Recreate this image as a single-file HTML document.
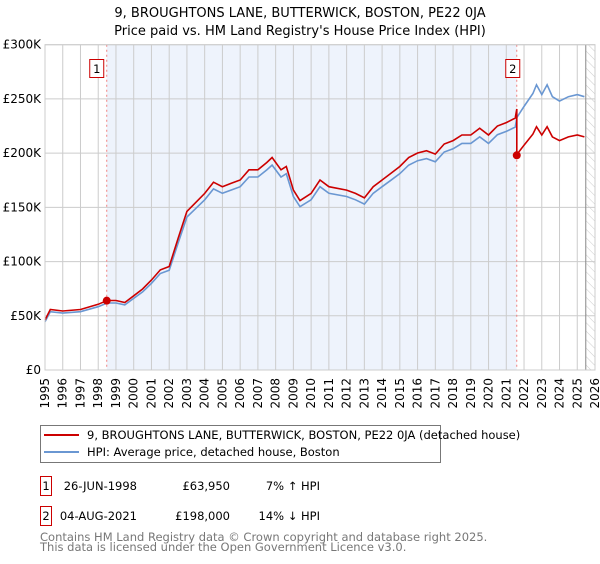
<!DOCTYPE html>
<html><head><meta charset="utf-8"><style>
body{margin:0;background:#fff;font-family:"DejaVu Sans","Liberation Sans",sans-serif;}
svg text{font-family:"DejaVu Sans","Liberation Sans",sans-serif;}
</style></head><body>
<svg id="chart" width="600" height="560" viewBox="0 0 600 560">
<defs><pattern id="hatch" width="6" height="6" patternUnits="userSpaceOnUse" patternTransform="rotate(-45)"><line x1="0" y1="0" x2="0" y2="6" stroke="#ccc" stroke-width="1"/></pattern></defs>
<text x="300" y="17" text-anchor="middle" font-size="13" fill="#000">9, BROUGHTONS LANE, BUTTERWICK, BOSTON, PE22 0JA</text>
<text x="300" y="35" text-anchor="middle" font-size="13" fill="#000">Price paid vs. HM Land Registry's House Price Index (HPI)</text>
<g id="plot"></g>
<g>
<rect x="40.5" y="425.5" width="400" height="37" fill="#fff" stroke="#777"/>
<line x1="44" y1="435" x2="79" y2="435" stroke="#cc0000" stroke-width="2"/>
<text x="87" y="439" font-size="11.5" fill="#000">9, BROUGHTONS LANE, BUTTERWICK, BOSTON, PE22 0JA (detached house)</text>
<line x1="44" y1="452" x2="79" y2="452" stroke="#6a97d2" stroke-width="2"/>
<text x="87" y="456" font-size="11.5" fill="#000">HPI: Average price, detached house, Boston</text>
</g>
<g font-size="11.5">
<rect x="40.5" y="476.5" width="11" height="19" fill="#fff" stroke="#cc0000"/>
<text x="46" y="490" text-anchor="middle">1</text>
<text x="137" y="490" text-anchor="end">26-JUN-1998</text>
<text x="230" y="490" text-anchor="end">£63,950</text>
<text x="320" y="490" text-anchor="end">7% ↑ HPI</text>
<rect x="40.5" y="506.5" width="11" height="19" fill="#fff" stroke="#cc0000"/>
<text x="46" y="520" text-anchor="middle">2</text>
<text x="137" y="520" text-anchor="end">04-AUG-2021</text>
<text x="230" y="520" text-anchor="end">£198,000</text>
<text x="320" y="520" text-anchor="end">14% ↓ HPI</text>
</g>
<text x="40" y="541" font-size="11.5" fill="#777">Contains HM Land Registry data © Crown copyright and database right 2025.</text>
<text x="40" y="551" font-size="11.5" fill="#777">This data is licensed under the Open Government Licence v3.0.</text>
</svg>
<script>
const hpiYears = [1995.0,1995.3,1996,1997,1998,1998.5,1999,1999.5,2000,2000.5,2001,2001.5,2002,2002.5,2003,2003.5,2004,2004.5,2005,2005.5,2006,2006.5,2007,2007.5,2007.8,2008.3,2008.6,2009,2009.37,2010,2010.5,2011,2012,2012.5,2013,2013.5,2014,2014.5,2015,2015.5,2016,2016.5,2017,2017.5,2018,2018.5,2019,2019.5,2020,2020.5,2021,2021.5,2021.6,2022,2022.5,2022.7,2023,2023.3,2023.6,2024,2024.5,2025,2025.4];
const hpiValues = [44.5,53.8,52.5,53.8,58.4,61.8,61.8,60,66,72,80,89,92,117,141,149,157,167,163,166,169,178,178,184.5,189,178,181,160,150.6,157,169,163,160,157,153,163,169,175,181,189,193,195,192,201,204,209,209,215,209,217,220,224,233,243,255,263,254,263,252,248,252,254,252];
const saleYears = [1998.48,2021.59];
const salePrices = [63.95,198];
const saleLabels = ["1","2"];
const yTicks = [0,50,100,150,200,250,300];
const yTickLabels = ["£0","£50K","£100K","£150K","£200K","£250K","£300K"];
const xYears = [1995,1996,1997,1998,1999,2000,2001,2002,2003,2004,2005,2006,2007,2008,2009,2010,2011,2012,2013,2014,2015,2016,2017,2018,2019,2020,2021,2022,2023,2024,2025,2026];

const L=45,R=595,T=44.7,B=370,X0=1995,X1=2026,YMAX=300;
const xs=y=>L+(y-X0)/(X1-X0)*(R-L);
const ys=v=>B-v/YMAX*(B-T);
const NS="http://www.w3.org/2000/svg";
const g=document.getElementById('plot');
function mk(tag,attrs,parent){const e=document.createElementNS(NS,tag);for(const k in attrs)e.setAttribute(k,attrs[k]);(parent||g).appendChild(e);return e;}
function hpiAt(t){for(let i=0;i<hpiYears.length-1;i++){if(t>=hpiYears[i]&&t<=hpiYears[i+1]){const f=(t-hpiYears[i])/(hpiYears[i+1]-hpiYears[i]);return hpiValues[i]+f*(hpiValues[i+1]-hpiValues[i]);}}return hpiValues[hpiValues.length-1];}

let bg=mk('rect',{x:L,y:T,width:R-L,height:B-T,fill:'#fff'});


let sh=mk('rect',{x:xs(saleYears[0]),y:T,width:xs(saleYears[1])-xs(saleYears[0]),height:B-T,fill:'#eef3fc'});


const hx=xs(2025.48);
let hr=mk('rect',{x:hx,y:T,width:R-hx,height:B-T,fill:'url(#hatch)'});


xYears.forEach(y=>{let l=mk('line',{x1:xs(y),x2:xs(y),y1:T,y2:B,stroke:'#ccc','stroke-width':1});


const tx=xs(y)+4,ty=B+8;
let t=mk('text',{x:tx,y:ty,'text-anchor':'end','font-size':12,fill:'#000',transform:'rotate(-90 '+tx+' '+ty+')'});t.textContent=y;

});
yTicks.forEach((v,i)=>{let l=mk('line',{x1:L,x2:R,y1:ys(v),y2:ys(v),stroke:'#ccc','stroke-width':1});


let t=mk('text',{x:L-4,y:ys(v)+4,'text-anchor':'end','font-size':12,fill:'#000'});t.textContent=yTickLabels[i];

});
let dl=mk('line',{x1:hx,x2:hx,y1:T,y2:B,stroke:'#888','stroke-width':1});


saleYears.forEach(y=>{let l=mk('line',{x1:xs(y),x2:xs(y),y1:T,y2:B,stroke:'#f08080','stroke-width':1,'stroke-dasharray':'2,3'});

});
let hp=hpiYears.map((y,i)=>xs(y).toFixed(1)+','+ys(hpiValues[i]).toFixed(1)).join(' ');
let hl=mk('polyline',{points:hp,fill:'none',stroke:'#6a97d2','stroke-width':1.6});


const r1=salePrices[0]/hpiAt(saleYears[0]);
const r2=salePrices[1]/hpiAt(saleYears[1]);
let pts=[];
hpiYears.forEach((y,i)=>{if(y<saleYears[1])pts.push([y,hpiValues[i]*r1]);});
pts.push([saleYears[1],hpiAt(saleYears[1])*r1]);
pts.push([saleYears[1],salePrices[1]]);
hpiYears.forEach((y,i)=>{if(y>saleYears[1])pts.push([y,hpiValues[i]*r2]);});
let pl=mk('polyline',{points:pts.map(p=>xs(p[0]).toFixed(1)+','+ys(p[1]).toFixed(1)).join(' '),fill:'none',stroke:'#cc0000','stroke-width':1.6});


saleYears.forEach((y,i)=>{
let c=mk('circle',{cx:xs(y),cy:ys(salePrices[i]),r:4,fill:'#cc0000'});


const bx=xs(y)-(i==0?10:4)-7;
let b=mk('rect',{x:bx,y:59.5,width:14,height:18,fill:'#fff',stroke:'#cc0000'});


let t=mk('text',{x:bx+7,y:73,'text-anchor':'middle','font-size':11.5,fill:'#000'});t.textContent=saleLabels[i];

});
let fr=mk('rect',{x:L,y:T,width:R-L,height:B-T,fill:'none',stroke:'#ccc'});


</script>
</body></html>
